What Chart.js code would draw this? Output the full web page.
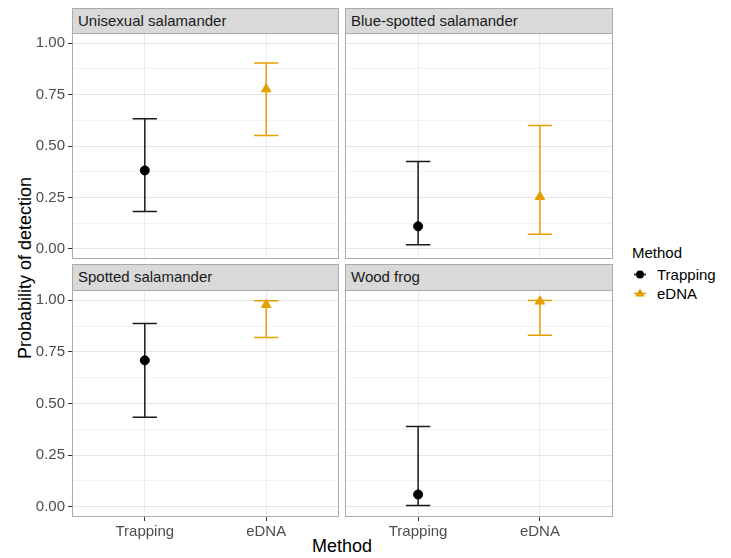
<!DOCTYPE html>
<html>
<head>
<meta charset="utf-8">
<title>Probability of detection by method</title>
<script src="https://cdn.jsdelivr.net/npm/chart.js@4.4.1/dist/chart.umd.min.js"></script>
<style>
  body { margin: 0; background: #fff; font-family: "Liberation Sans", Arial, sans-serif; }
  #wrap { position: relative; width: 731px; height: 558px; overflow: hidden; }
  #wrap canvas { position: absolute; }
  .strip {
    position: absolute; box-sizing: border-box;
    background: #d9d9d9; border: 1px solid #ababab;
    font-size: 15px; color: #1a1a1a; padding-left: 5px; line-height: 24px;
  }
  .axis-title { position: absolute; font-size: 18px; color: #000; white-space: nowrap; }
  #ytitle { left: 25px; top: 268px; transform: translate(-50%, -50%) rotate(-90deg); }
  #xtitle { left: 342px; top: 546px; transform: translate(-50%, -50%); }
  #legend { position: absolute; left: 632px; top: 244px; font-size: 15px; color: #000; }
  #legend .title { margin-bottom: 4px; }
  #legend .item { position: relative; height: 19px; line-height: 19px; padding-left: 25px; }
  #legend .item canvas { position: absolute; left: 0; top: 1px; }
</style>
</head>
<body>
<div id="wrap">
  <div id="ytitle" class="axis-title">Probability of detection</div>
  <div id="xtitle" class="axis-title">Method</div>
  <div id="legend">
    <div class="title">Method</div>
    <div class="item"><canvas id="keyTrapping" width="20" height="17"></canvas>Trapping</div>
    <div class="item"><canvas id="keyEdna" width="20" height="17"></canvas>eDNA</div>
  </div>
</div>
<script>
// detection probability estimates with 95% intervals, one entry per species
const species = ['Unisexual salamander', 'Blue-spotted salamander', 'Spotted salamander', 'Wood frog'];
const methods = ['Trapping', 'eDNA'];

const trappingEst  = [0.381, 0.109, 0.709, 0.059];
const trappingLow  = [0.181, 0.019, 0.433, 0.006];
const trappingHigh = [0.633, 0.425, 0.888, 0.388];

const ednaEst  = [0.777, 0.253, 0.979, 0.995];
const ednaLow  = [0.551, 0.071, 0.820, 0.831];
const ednaHigh = [0.904, 0.600, 0.998, 0.999];

const yMajor = [0, 0.25, 0.5, 0.75, 1];
const yMinor = [0.125, 0.375, 0.625, 0.875];

const colTrapping = '#000000';
const colEdna = '#E69F00';

// panel plot areas [left, top, right, bottom]
const panels = [
  { rect: [72, 33, 339, 259], stripTop: 8,   showY: true,  showX: false },
  { rect: [345, 33, 613, 259], stripTop: 8,  showY: false, showX: false },
  { rect: [72, 290, 339, 517], stripTop: 264, showY: true,  showX: true },
  { rect: [345, 290, 613, 517], stripTop: 264, showY: false, showX: true }
];

const wrap = document.getElementById('wrap');
const FONT = '"Liberation Sans", Arial, sans-serif';

// error bars drawn underneath the points
const errorBars = {
  id: 'errorBars',
  beforeDatasetsDraw(chart) {
    const { ctx, scales: { x, y } } = chart;
    ctx.save();
    ctx.lineWidth = 1.5;
    chart.data.datasets.forEach(ds => {
      ctx.strokeStyle = ds.barColor;
      ds.data.forEach(p => {
        const cx = x.getPixelForValue(p.x);
        const x0 = x.getPixelForValue(p.x - 0.1);
        const x1 = x.getPixelForValue(p.x + 0.1);
        const yl = y.getPixelForValue(p.low);
        const yh = y.getPixelForValue(p.high);
        ctx.beginPath();
        ctx.moveTo(cx, yl); ctx.lineTo(cx, yh);
        ctx.moveTo(x0, yl); ctx.lineTo(x1, yl);
        ctx.moveTo(x0, yh); ctx.lineTo(x1, yh);
        ctx.stroke();
      });
    });
    ctx.restore();
  }
};

// grey frame round each panel
const panelFrame = {
  id: 'panelFrame',
  afterDraw(chart) {
    const { ctx, chartArea: a } = chart;
    ctx.save();
    ctx.strokeStyle = '#ababab';
    ctx.lineWidth = 1;
    ctx.strokeRect(a.left + 0.5, a.top + 0.5, a.right - a.left - 1, a.bottom - a.top - 1);
    ctx.restore();
  }
};

// fixed axis size, no extra room for overhanging labels
function fixSize(s, size) {
  if (s.isHorizontal()) s.height = size; else s.width = size;
  s.paddingTop = 0; s.paddingBottom = 0; s.paddingLeft = 0; s.paddingRight = 0;
}

function makePanel(i) {
  const p = panels[i];
  const [x0, y0, x1, y1] = p.rect;
  const leftSpace = p.showY ? 52 : 2;
  const bottomSpace = p.showX ? 30 : 2;

  const strip = document.createElement('div');
  strip.className = 'strip';
  strip.textContent = species[i];
  strip.style.left = x0 + 'px';
  strip.style.top = p.stripTop + 'px';
  strip.style.width = (x1 - x0) + 'px';
  strip.style.height = (y0 - p.stripTop + 1) + 'px';
  wrap.appendChild(strip);

  const canvas = document.createElement('canvas');
  canvas.width = (x1 - x0) + leftSpace + 2;
  canvas.height = (y1 - y0) + bottomSpace + 2;
  canvas.style.left = (x0 - leftSpace) + 'px';
  canvas.style.top = (y0 - 2) + 'px';
  wrap.appendChild(canvas);

  new Chart(canvas.getContext('2d'), {
    type: 'scatter',
    data: {
      datasets: [
        {
          label: 'Trapping',
          data: [{ x: 0, y: trappingEst[i], low: trappingLow[i], high: trappingHigh[i] }],
          pointStyle: 'circle',
          pointRadius: 4.5,
          backgroundColor: colTrapping,
          borderColor: colTrapping,
          barColor: '#1a1a1a'
        },
        {
          label: 'eDNA',
          data: [{ x: 1, y: ednaEst[i], low: ednaLow[i], high: ednaHigh[i] }],
          pointStyle: 'triangle',
          pointRadius: 5.5,
          backgroundColor: colEdna,
          borderColor: colEdna,
          barColor: colEdna
        }
      ]
    },
    options: {
      responsive: false,
      animation: false,
      devicePixelRatio: 1,
      layout: {
        autoPadding: false,
        padding: { top: 2, right: 2, left: p.showY ? 0 : 2, bottom: p.showX ? 0 : 2 }
      },
      plugins: { legend: { display: false }, tooltip: { enabled: false } },
      scales: {
        x: {
          type: 'linear',
          min: -0.6,
          max: 1.6,
          afterBuildTicks: s => { s.ticks = methods.map((m, k) => ({ value: k })); },
          afterFit: s => fixSize(s, p.showX ? 30 : 0),
          border: { display: false },
          grid: {
            color: '#ebebeb',
            lineWidth: 1,
            drawTicks: p.showX,
            tickLength: 4,
            tickColor: '#333333'
          },
          ticks: {
            display: p.showX,
            autoSkip: false,
            maxRotation: 0,
            padding: 2,
            color: '#4d4d4d',
            font: { family: FONT, size: 15 },
            callback: v => methods[v]
          }
        },
        y: {
          type: 'linear',
          min: -0.05,
          max: 1.05,
          afterBuildTicks: s => {
            s.ticks = yMajor.concat(yMinor).sort((a, b) => a - b).map(v => ({ value: v }));
          },
          afterFit: s => fixSize(s, p.showY ? 52 : 0),
          border: { display: false },
          grid: {
            color: c => yMajor.includes(c.tick.value) ? '#e6e6e6' : '#f2f2f2',
            lineWidth: 1,
            drawTicks: p.showY,
            tickLength: 4,
            tickColor: c => yMajor.includes(c.tick.value) ? '#333333' : 'rgba(0,0,0,0)'
          },
          ticks: {
            display: p.showY,
            autoSkip: false,
            padding: 3,
            color: '#4d4d4d',
            font: { family: FONT, size: 15 },
            callback: v => yMajor.includes(v) ? v.toFixed(2) : ''
          }
        }
      }
    },
    plugins: [errorBars, panelFrame]
  });
}

panels.forEach((p, i) => makePanel(i));

// legend keys: short bar with the point symbol on top
function drawKey(id, color, shape) {
  const ctx = document.getElementById(id).getContext('2d');
  ctx.strokeStyle = color;
  ctx.fillStyle = color;
  ctx.lineWidth = 1.5;
  ctx.beginPath();
  ctx.moveTo(2, 8.5); ctx.lineTo(14, 8.5);
  ctx.stroke();
  ctx.beginPath();
  if (shape === 'circle') {
    ctx.arc(8, 8.5, 4, 0, Math.PI * 2);
  } else {
    ctx.moveTo(8, 3.5); ctx.lineTo(12.8, 11.5); ctx.lineTo(3.2, 11.5); ctx.closePath();
  }
  ctx.fill();
}
drawKey('keyTrapping', colTrapping, 'circle');
drawKey('keyEdna', colEdna, 'triangle');
</script>
</body>
</html>
